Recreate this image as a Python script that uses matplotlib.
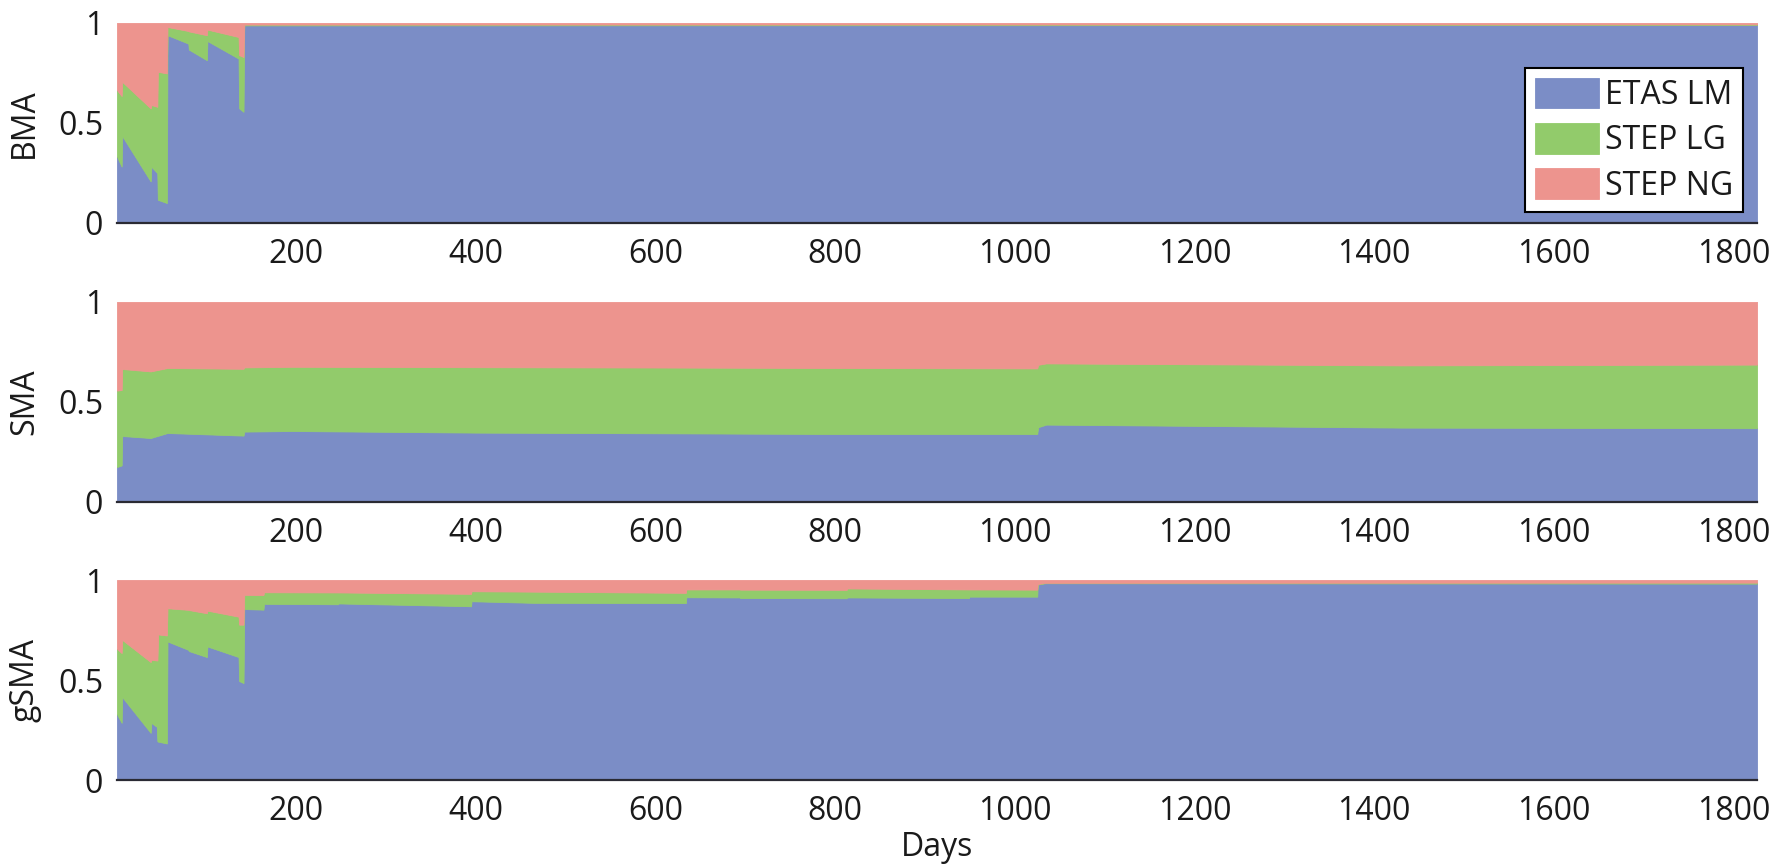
import matplotlib
matplotlib.use("Agg")
import matplotlib.pyplot as plt

plt.rcParams["font.family"] = ["Open Sans", "DejaVu Sans"]

# ── Model weights per day ─────────────────────────────────────────────────────
# each panel: day, ETAS LM share, STEP LG share, STEP NG share
bma_days = [1, 6.2, 6.8, 38.5, 39.2, 45.9, 46.5, 56.5, 57.2, 80.4, 81.0,
            101.0, 101.6, 136.3, 137.0, 141.8, 142.6, 1826]
bma_etas = [.332, .282, .435, .208, .282, .249, .116, .100, .939, .897, .867,
            .814, .910, .822, .573, .556, .988, .990]
bma_lg = [.332, .353, .271, .365, .308, .332, .640, .648, .041, .063, .091,
          .125, .057, .108, .266, .274, .004, .003]
bma_ng = [.336, .365, .294, .427, .410, .419, .244, .252, .020, .040, .042,
          .061, .033, .070, .161, .170, .008, .007]

sma_days = [1, 6.2, 6.8, 38.5, 57.2, 141.8, 142.6, 196, 400, 640, 800,
            1025, 1026, 1035, 1430, 1826]
sma_etas = [.175, .183, .330, .320, .345, .332, .352, .355, .347, .343, .340,
            .340, .374, .387, .372, .369]
sma_lg = [.382, .377, .335, .333, .325, .334, .321, .321, .327, .329, .330,
          .328, .312, .306, .311, .318]
sma_ng = [.443, .440, .335, .347, .330, .334, .327, .324, .326, .328, .330,
          .332, .314, .307, .317, .313]

gsma_days = [1, 6.2, 6.8, 38.5, 39.2, 45.3, 46.0, 46.8, 56.5, 57.2, 80.4,
             81.0, 101.0, 101.6, 136.3, 137.0, 141.8, 142.6, 164.0, 164.6,
             247.0, 247.6, 395.0, 395.5, 465.0, 634.0, 634.5, 694.0, 694.5,
             813.0, 813.5, 949.0, 949.5, 1025.0, 1025.5, 1034.0, 1826]
gsma_etas = [.329, .286, .415, .236, .286, .266, .194, .192, .183, .693, .651,
             .645, .615, .668, .615, .495, .485, .855, .852, .881,
             .879, .883, .869, .894, .886, .885, .914, .913, .910,
             .909, .913, .910, .917, .917, .977, .984, .982]
gsma_lg = [.327, .349, .286, .354, .315, .332, .404, .536, .540, .166, .200,
           .205, .219, .179, .202, .282, .292, .071, .073, .058,
           .059, .055, .062, .050, .056, .051, .039, .040, .042,
           .042, .045, .043, .036, .035, .003, .002, .005]
gsma_ng = [.344, .365, .299, .410, .399, .402, .402, .272, .277, .141, .149,
           .150, .166, .153, .183, .223, .223, .074, .075, .061,
           .062, .062, .069, .056, .058, .064, .047, .047, .048,
           .049, .042, .047, .047, .048, .020, .014, .013]

model_names = ["ETAS LM", "STEP LG", "STEP NG"]
colours = ["#7B8DC6", "#92CB6B", "#ED948E"]
panel_names = ["BMA", "SMA", "gSMA"]
x_ticks = [200, 400, 600, 800, 1000, 1200, 1400, 1600, 1800]

panels = [
    (bma_days, bma_etas, bma_lg, bma_ng),
    (sma_days, sma_etas, sma_lg, sma_ng),
    (gsma_days, gsma_etas, gsma_lg, gsma_ng),
]

# ── Figure ────────────────────────────────────────────────────────────────────
fig = plt.figure(figsize=(17.75, 8.67), dpi=100)
left, width, height = 0.0659, 0.924, 0.2307
bottoms = [0.7428, 0.4210, 0.1003]

axes = []
for i, (days, etas, lg, ng) in enumerate(panels):
    ax = fig.add_axes([left, bottoms[i], width, height])
    polys = ax.stackplot(days, etas, lg, ng, colors=colours, labels=model_names)
    for p, c in zip(polys, colours):
        p.set_edgecolor(c)
        p.set_linewidth(0.6)
    ax.set_xlim(1, 1826)
    ax.set_ylim(0, 1)
    ax.set_yticks([0, 0.5, 1])
    ax.set_yticklabels(["0", "0.5", "1"])
    ax.set_xticks(x_ticks)
    ax.tick_params(axis="both", length=0, labelsize=23, colors="#1a1a1a")
    ax.tick_params(axis="y", pad=10)
    ax.tick_params(axis="x", pad=11)
    ax.set_ylabel(panel_names[i], fontsize=23, color="#1a1a1a", labelpad=12)
    for side in ["top", "right", "left"]:
        ax.spines[side].set_visible(False)
    ax.spines["bottom"].set_color("#2a2a33")
    ax.spines["bottom"].set_linewidth(1.6)
    ax.spines["bottom"].set_zorder(5)
    axes.append(ax)

axes[-1].set_xlabel("Days", fontsize=23, color="#1a1a1a", labelpad=2)

leg = axes[0].legend(loc="upper right", bbox_to_anchor=(0.9915, 0.775),
                     borderaxespad=0, fontsize=23, fancybox=False,
                     edgecolor="black", framealpha=1, handlelength=2.0,
                     handleheight=1.1, handletextpad=0.2, labelspacing=0.35,
                     borderpad=0.3)
leg.get_frame().set_linewidth(1.5)
for t in leg.get_texts():
    t.set_color("#1a1a1a")

fig.savefig("out.png", dpi=100)
